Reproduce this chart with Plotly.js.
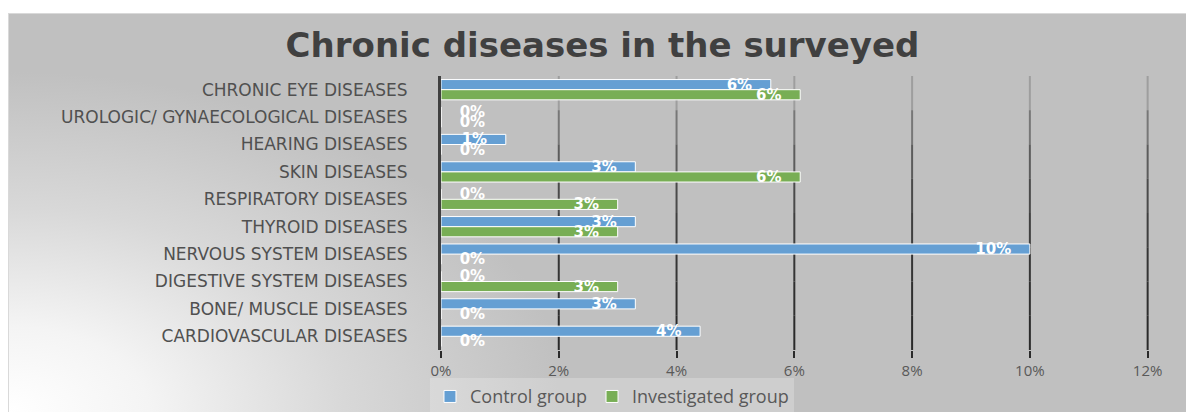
<!DOCTYPE html>
<html>
<head>
<meta charset="utf-8">
<script src="https://cdn.plot.ly/plotly-3.0.1.min.js"></script>
<style>
  html, body { margin: 0; padding: 0; background: #ffffff; }
  #bg {
    position: absolute; left: 8px; top: 13px; width: 1177px; height: 398px;
    border: 1px solid #d9d9d9;
    background: radial-gradient(ellipse 560px 340px at 0% 100%, #ffffff 0%, #f4f4f4 25%, #d8d8d8 60%, #c0c0c0 100%);
  }
  #chart { position: absolute; left: 0; top: 0; width: 1186px; height: 412px; }
</style>
</head>
<body>
<div id="bg"></div>
<div id="chart"></div>
<script>
// Categories, top to bottom as displayed
const categories = [
  "CHRONIC EYE DISEASES",
  "UROLOGIC/ GYNAECOLOGICAL DISEASES",
  "HEARING DISEASES",
  "SKIN DISEASES",
  "RESPIRATORY DISEASES",
  "THYROID DISEASES",
  "NERVOUS SYSTEM DISEASES",
  "DIGESTIVE SYSTEM DISEASES",
  "BONE/ MUSCLE DISEASES",
  "CARDIOVASCULAR DISEASES"
];
// Percent values
const controlGroup      = [5.6, 0, 1.1, 3.3, 0, 3.3, 10.0, 0, 3.3, 4.4];
const investigatedGroup = [6.1, 0, 0, 6.1, 3.0, 3.0, 0, 3.0, 0, 0];
const seriesNames = ["Control group", "Investigated group"];
const xTickValues = [0, 2, 4, 6, 8, 10, 12];
const xTickLabels = ["0%", "2%", "4%", "6%", "8%", "10%", "12%"];

const NB = "\u00a0";
function textPos(vals) { return vals.map(v => v > 0 ? "inside" : "outside"); }
function textTpl(vals) {
  return vals.map(v => v > 0 ? "%{x:.0f}%" + NB + NB + NB : NB + NB + NB + "%{x:.0f}%");
}
const labelFont = { family: "DejaVu Sans", size: 15, color: "#ffffff", weight: "bold" };

function makeTrace(vals, name, color) {
  return {
    type: "bar", orientation: "h",
    y: categories, x: vals, name: name,
    marker: { color: color, line: { color: "#ffffff", width: 1 } },
    textposition: textPos(vals),
    texttemplate: textTpl(vals),
    insidetextanchor: "end",
    textfont: labelFont, insidetextfont: labelFont, outsidetextfont: labelFont,
    constraintext: "none", cliponaxis: false,
    hoverinfo: "x+y"
  };
}

const data = [
  makeTrace(controlGroup, seriesNames[0], "#659fd3"),
  makeTrace(investigatedGroup, seriesNames[1], "#78ae55")
];

// gridlines that fade toward the top (drawn at the tick values, below the bars)
const fadeSteps = [1.0, 0.96, 0.92, 0.86, 0.78, 0.66, 0.48, 0.22];
const gridShapes = [];
xTickValues.filter(v => v > 0).forEach(v => {
  fadeSteps.forEach((op, i) => {
    gridShapes.push({
      type: "line", layer: "below", xref: "x", yref: "paper",
      x0: v, x1: v, y0: i / fadeSteps.length, y1: (i + 1) / fadeSteps.length,
      line: { color: "#2a2a2a", width: 2 }, opacity: op
    });
  });
});

const layout = {
  width: 1186, height: 412,
  paper_bgcolor: "rgba(0,0,0,0)", plot_bgcolor: "rgba(0,0,0,0)",
  margin: { l: 441, r: 36, t: 76, b: 62, pad: 0 },
  barmode: "group", bargap: 0.26, bargroupgap: 0,
  title: {
    text: "Chronic diseases in the surveyed",
    font: { family: "DejaVu Sans", size: 34, color: "#404040", weight: "bold" },
    x: 0.508, xref: "container", xanchor: "center",
    y: 0.89, yref: "container", yanchor: "middle"
  },
  xaxis: {
    range: [0, 12.04], tickvals: xTickValues, ticktext: xTickLabels,
    showgrid: false,
    zeroline: false, showline: false,
    ticks: "outside", ticklen: 7, tickwidth: 2, tickcolor: "#2a2a2a",
    tickfont: { family: "Open Sans", size: 15, color: "#595959" },
    fixedrange: true
  },
  yaxis: {
    type: "category", autorange: "reversed",
    showline: true, linecolor: "#404040", linewidth: 3,
    showgrid: false, zeroline: false, ticks: "",
    ticklabelstandoff: 27,
    tickfont: { family: "DejaVu Sans", size: 17, color: "#505050" },
    fixedrange: true
  },
  shapes: gridShapes,
  showlegend: true,
  legend: {
    orientation: "h", x: 0.516, xanchor: "center", xref: "container",
    y: 0.037, yanchor: "middle", yref: "container",
    bgcolor: "rgba(255,255,255,0.22)",
    font: { family: "Open Sans", size: 18, color: "#595959" },
    itemwidth: 30, tracegroupgap: 0
  }
};

Plotly.newPlot("chart", data, layout, { displayModeBar: false, staticPlot: true });
</script>
</body>
</html>
